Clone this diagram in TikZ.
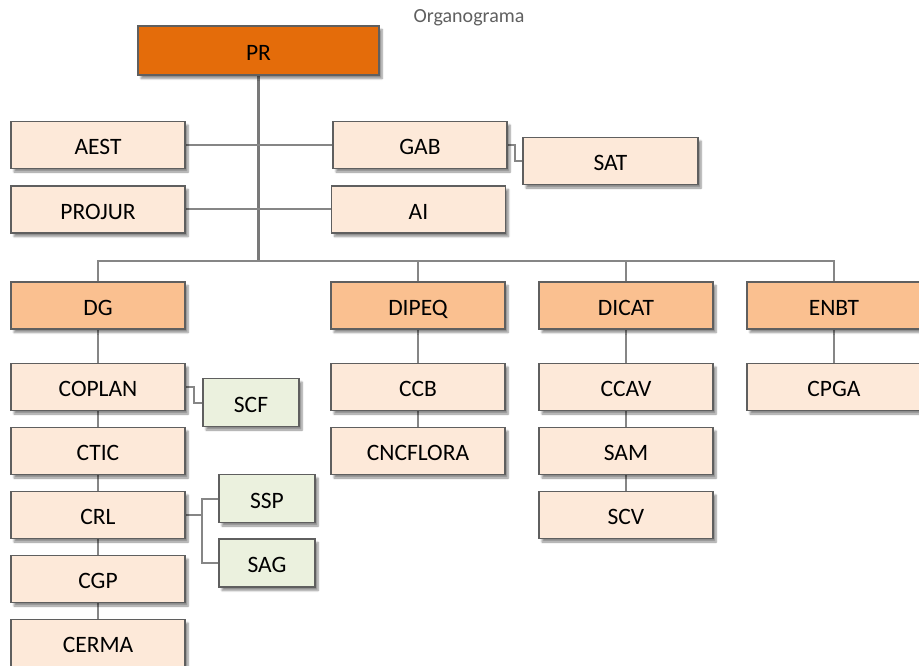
\documentclass[tikz,border=0pt]{standalone}
\usepackage{fontspec}
\setmainfont{Carlito}
\usetikzlibrary{shadows.blur,backgrounds}
\definecolor{topfill}{HTML}{E46C0A}
\definecolor{dirfill}{HTML}{FAC090}
\definecolor{unitfill}{HTML}{FDE9D9}
\definecolor{subfill}{HTML}{EBF1DE}
\definecolor{edgegray}{HTML}{5F5F5F}
\definecolor{linegray}{HTML}{868686}
\tikzset{
  orgbox/.style={draw=edgegray, line width=1.6pt, minimum width=174pt, minimum height=47pt,
    inner sep=0pt, text height=19.5pt, text depth=0pt, font=\fontsize{23.5}{26}\selectfont,
    blur shadow={shadow xshift=3pt, shadow yshift=-3.5pt, shadow blur steps=6, shadow opacity=45}},
  topbox/.style={orgbox, fill=topfill, minimum width=241pt, minimum height=49pt},
  dirbox/.style={orgbox, fill=dirfill},
  unitbox/.style={orgbox, fill=unitfill},
  subbox/.style={orgbox, fill=subfill, minimum width=96pt, minimum height=48pt},
  link/.style={draw=linegray, line width=2pt},
  trunk/.style={draw=linegray!90!black, line width=2.2pt}
}
\begin{document}
\begin{tikzpicture}[x=1pt,y=-1pt]
\useasboundingbox (0,0) rectangle (919,666);

\node[text=edgegray, font=\fontsize{20}{24}\selectfont] (title) at (469,18) {Organograma};

% top level and advisory units
\node[topbox]  (PR)     at (258.5,50.5) {PR};
\node[unitbox] (AEST)   at (98,145)     {AEST};
\node[unitbox] (PROJUR) at (98,209.5)   {PROJUR};
\node[unitbox] (GAB)    at (420,145)    {GAB};
\node[unitbox] (AI)     at (418.5,209.5){AI};
\node[unitbox, minimum width=175pt] (SAT) at (610.5,161) {SAT};

% directorates
\node[dirbox] (DG)    at (98,305.5)  {DG};
\node[dirbox] (DIPEQ) at (418,305.5) {DIPEQ};
\node[dirbox] (DICAT) at (626,305.5) {DICAT};
\node[dirbox] (ENBT)  at (834,305.5) {ENBT};

% DG units
\node[unitbox] (COPLAN) at (98,387) {COPLAN};
\node[unitbox] (CTIC)   at (98,451) {CTIC};
\node[unitbox] (CRL)    at (98,515) {CRL};
\node[unitbox] (CGP)    at (98,579) {CGP};
\node[unitbox] (CERMA)  at (98,643) {CERMA};
\node[subbox]  (SCF)    at (251,402.5) {SCF};
\node[subbox]  (SSP)    at (267,498.5) {SSP};
\node[subbox]  (SAG)    at (267,563)   {SAG};

% DIPEQ units
\node[unitbox] (CCB)      at (418,387) {CCB};
\node[unitbox] (CNCFLORA) at (418,451) {CNCFLORA};

% DICAT units
\node[unitbox] (CCAV) at (626,387) {CCAV};
\node[unitbox] (SAM)  at (626,451) {SAM};
\node[unitbox] (SCV)  at (626,515) {SCV};

% ENBT units
\node[unitbox] (CPGA) at (834,387) {CPGA};

\coordinate (busy) at (0,260.5);
\coordinate (gabturn) at (515,0);
\coordinate (scfturn) at (194,0);
\coordinate (crlturn) at (202,0);

\begin{pgfonlayer}{background}
  \draw[trunk] (PR.south) -- (PR.south |- busy);
  \draw[link] (AEST.east) -- (GAB.west);
  \draw[link] (PROJUR.east) -- (AI.west);
  \draw[link] (GAB.east) -- (gabturn |- GAB.east) |- (SAT.west);
  \draw[link] (DG.north) -- (DG.north |- busy) -- (ENBT.north |- busy) -- (ENBT.north);
  \draw[link] (DIPEQ.north) -- (DIPEQ.north |- busy);
  \draw[link] (DICAT.north) -- (DICAT.north |- busy);
  \draw[link] (DG) -- (COPLAN);
  \draw[link] (COPLAN) -- (CTIC);
  \draw[link] (CTIC) -- (CRL);
  \draw[link] (CRL) -- (CGP);
  \draw[link] (CGP) -- (CERMA);
  \draw[link] (COPLAN.east) -- (scfturn |- COPLAN.east) |- (SCF.west);
  \draw[link] (CRL.east) -- (crlturn |- CRL.east);
  \draw[link] (SSP.west) -- (crlturn |- SSP.west) -- (crlturn |- SAG.west) -- (SAG.west);
  \draw[link] (DIPEQ) -- (CCB);
  \draw[link] (CCB) -- (CNCFLORA);
  \draw[link] (DICAT) -- (CCAV);
  \draw[link] (CCAV) -- (SAM);
  \draw[link] (SAM) -- (SCV);
  \draw[link] (ENBT) -- (CPGA);
\end{pgfonlayer}
\end{tikzpicture}
\end{document}
